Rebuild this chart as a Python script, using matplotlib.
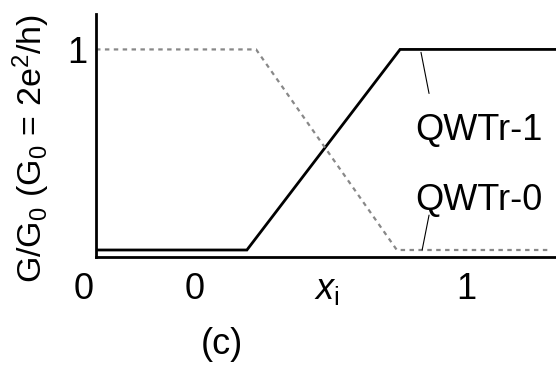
import numpy as np
import matplotlib
matplotlib.use("Agg")
import matplotlib.pyplot as plt
from matplotlib.transforms import ScaledTranslation

plt.rcParams['font.family'] = ['Liberation Sans', 'DejaVu Sans']
plt.rcParams['mathtext.fontset'] = 'custom'
plt.rcParams['mathtext.rm'] = 'Liberation Sans'
plt.rcParams['mathtext.it'] = 'Liberation Sans:italic'

# Data (x as fraction of axis width, y as G/G0)
x_qwtr1 = [0.0, 0.328, 0.661, 1.0]
g_qwtr1 = [0.034, 0.034, 1.0, 1.0]
x_qwtr0 = [0.0, 0.348, 0.654, 0.983]
g_qwtr0 = [1.0, 1.0, 0.034, 0.034]

xtick_pos = [0.0, 0.215, 0.502, 0.805]
xtick_labels = ["0", "0", r"$x_\mathrm{i}$", "1"]

fig = plt.figure(figsize=(5.56, 3.72), dpi=100)
ax = fig.add_axes([0.1727, 0.309, 0.8273, 0.653])

ax.plot(x_qwtr1, g_qwtr1, color="black", lw=2.0, solid_joinstyle="miter")
ax.plot(x_qwtr0, g_qwtr0, color="#888888", lw=1.6, linestyle=(0, (2, 2)))

ax.set_xlim(0, 1)
ax.set_ylim(0, 1.17)
ax.set_xticks(xtick_pos)
ax.set_xticklabels(xtick_labels)
ax.set_yticks([1])
ax.set_yticklabels(["1"])
ax.tick_params(length=0, labelsize=26)
ax.tick_params(axis="x", pad=11)
ax.tick_params(axis="y", pad=6)

# first "0" sits left of the axis corner
first = ax.get_xticklabels()[0]
first.set_horizontalalignment("right")
first.set_transform(first.get_transform() +
                    ScaledTranslation(-2 / 100, 0, fig.dpi_scale_trans))

for side in ["top", "right"]:
    ax.spines[side].set_visible(False)
for side in ["left", "bottom"]:
    ax.spines[side].set_linewidth(2.0)

ax.set_ylabel(r"G/G$_0$ (G$_0$ = 2e$^2$/h)", fontsize=24.5)
ax.yaxis.set_label_coords(-0.095, 0.449)

# annotations
ax.annotate("", xy=(0.7065, 0.986), xytext=(0.724, 0.788),
            arrowprops=dict(arrowstyle="-", lw=0.8, color="black",
                            shrinkA=0, shrinkB=0))
ax.text(0.693, 0.61, "QWTr-1", fontsize=26, ha="left", va="center")
ax.annotate("", xy=(0.709, 0.034), xytext=(0.724, 0.202),
            arrowprops=dict(arrowstyle="-", lw=0.8, color="black",
                            shrinkA=0, shrinkB=0))
ax.text(0.693, 0.274, "QWTr-0", fontsize=26, ha="left", va="center")

fig.text(0.399, 0.075, "(c)", fontsize=26, ha="center", va="center")

fig.savefig("out.png", dpi=100)
